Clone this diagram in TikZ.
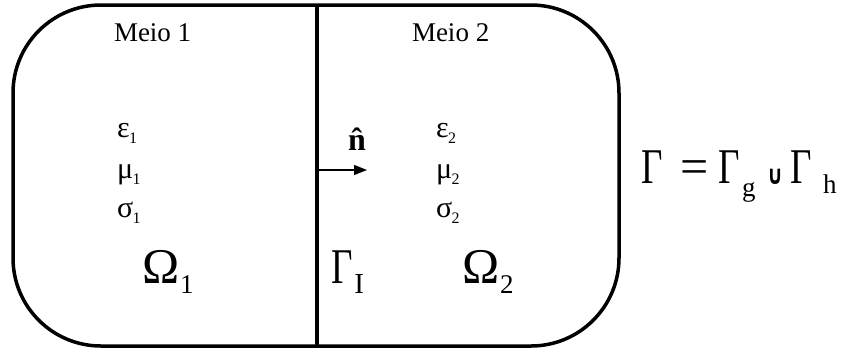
\documentclass[tikz,border=0pt]{standalone}
\usepackage{fontspec}
\usepackage{graphicx}
\setmainfont{Liberation Serif}
\newfontfamily\dejavu{DejaVu Sans}
\usetikzlibrary{arrows.meta}
\newcommand{\fs}[1]{\fontsize{#1}{#1}\selectfont}
\newcommand{\gsub}[2]{{\fs{30}#1}\hspace{-0.5pt}\raisebox{-6pt}{\fs{16}#2}}
\newcommand{\bsub}[2]{{\fs{50}#1}\hspace{1pt}\raisebox{-10pt}{\fs{27}#2}}
\newcommand{\nGamma}{\scalebox{0.74}[1]{Γ}}
\begin{document}
\begin{tikzpicture}[x=1pt,y=-1pt,
  lbl/.style={anchor=base west,inner sep=0pt,outer sep=0pt},
  frame/.style={line width=3.5pt,rounded corners=88pt},
  divider/.style={line width=3.2pt},
  normal/.style={line width=1.2pt,-{Triangle[length=13pt,width=10pt]}}]
\useasboundingbox (0,0) rectangle (860,349);
\draw[frame] (13,5) rectangle (619,346);
\coordinate (ltop) at (317,5);
\coordinate (lbot) at (317,346);
\draw[divider] (ltop) -- (lbot);
\coordinate (a0) at (317,170);
\coordinate (a1) at (367,170);
\draw[normal] (a0) -- (a1);
\node[lbl] (m1) at (114,41) {\fs{27}Meio 1};
\node[lbl] (m2) at (412,41) {\fs{27}Meio 2};
\node[lbl] (e1) at (117,137) {\gsub{ε}{1}};
\node[lbl] (u1) at (117,178) {\gsub{μ}{1}};
\node[lbl] (s1) at (117,217) {\gsub{σ}{1}};
\node[lbl] (e2) at (436,137) {\gsub{ε}{2}};
\node[lbl] (u2) at (436,178) {\gsub{μ}{2}};
\node[lbl] (s2) at (436,217) {\gsub{σ}{2}};
\node[lbl] (nhat) at (348,150) {\fs{32}\textbf{\^{n}}};
\node[lbl] (om1) at (142,283) {\bsub{Ω}{1}};
\node[lbl] (gi) at (331,283) {{\fs{50}\nGamma}\hspace{2pt}\raisebox{-10pt}{\fs{29}I}};
\node[lbl] (om2) at (462,283) {\bsub{Ω}{2}};
\node[lbl] (eq) at (641,183) {\fs{50}\makebox[39pt][l]{\nGamma}\makebox[38pt][l]{=}\makebox[24pt][l]{\nGamma}\makebox[25pt][l]{\raisebox{-13pt}{\fs{27}g}}\makebox[23pt][l]{\raisebox{-1pt}{\scalebox{0.9}[1.2]{\dejavu\bfseries\fs{22}∪}}}\makebox[33pt][l]{\nGamma}\raisebox{-10pt}{\fs{27}h}};
\end{tikzpicture}
\end{document}
